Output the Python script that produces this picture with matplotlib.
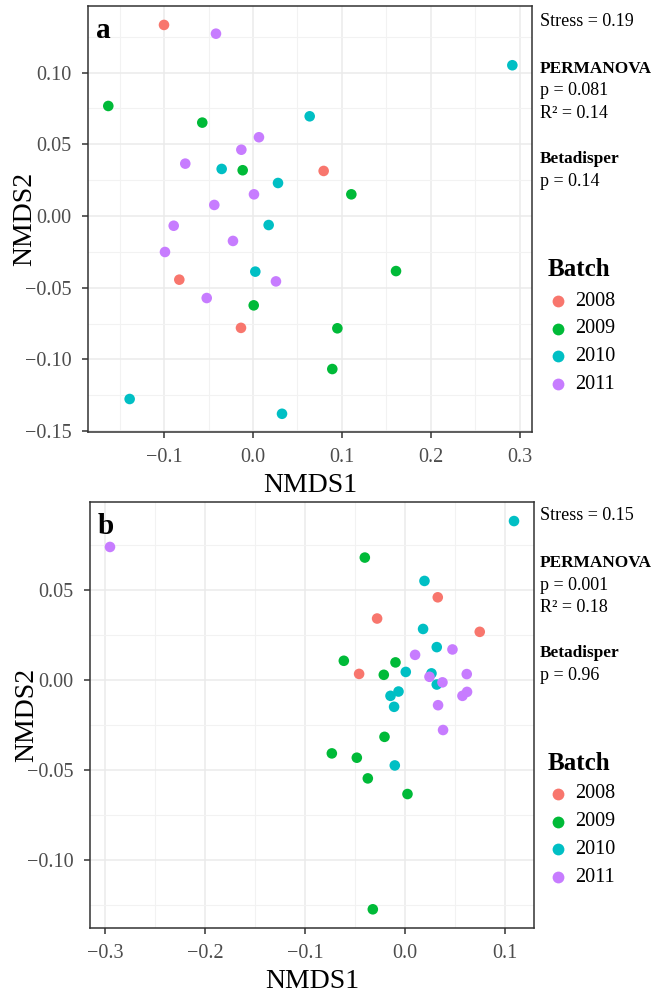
import numpy as np
import matplotlib
matplotlib.use("Agg")
import matplotlib.pyplot as plt
from matplotlib.ticker import MultipleLocator
from matplotlib.lines import Line2D

plt.rcParams['font.family'] = ['Liberation Serif', 'DejaVu Serif']

batches = ['2008', '2009', '2010', '2011']
colors = ['#F8766D', '#00BA38', '#00BFC4', '#C77CFF']

# panel a: NMDS scores per batch
a_x = {
    '2008': [-0.100, 0.0794, -0.0828, -0.0135],
    '2009': [-0.1626, -0.0570, -0.0116, 0.1105, 0.1607, 0.0948, 0.0891, 0.0008],
    '2010': [0.2914, 0.0637, -0.0352, 0.0281, 0.0176, 0.0026, -0.1386, 0.0326],
    '2011': [-0.0416, 0.0067, -0.0131, -0.0761, 0.0011, -0.0435, -0.0891,
             -0.0225, -0.0989, 0.0258, -0.0520],
}
a_y = {
    '2008': [0.1332, 0.0314, -0.0444, -0.0780],
    '2009': [0.0767, 0.0651, 0.0319, 0.0151, -0.0384, -0.0783, -0.1067, -0.0623],
    '2010': [0.1051, 0.0695, 0.0328, 0.0230, -0.0063, -0.0388, -0.1276, -0.1379],
    '2011': [0.1271, 0.0549, 0.0462, 0.0365, 0.0151, 0.0077, -0.0068,
             -0.0174, -0.0251, -0.0456, -0.0572],
}

# panel b
b_x = {
    '2008': [0.0330, -0.0277, 0.0750, -0.0457],
    '2009': [-0.0400, -0.0610, -0.0093, -0.0210, -0.0203, -0.0730, -0.0480,
             -0.0370, 0.0027, -0.0320],
    '2010': [0.1093, 0.0197, 0.0183, 0.0320, 0.0010, 0.0267, 0.0320, -0.0063,
             -0.0143, -0.0107, -0.0100],
    '2011': [-0.2950, 0.0103, 0.0477, 0.0620, 0.0247, 0.0377, 0.0623, 0.0577,
             0.0333, 0.0383],
}
b_y = {
    '2008': [0.0459, 0.0341, 0.0267, 0.0033],
    '2009': [0.0680, 0.0106, 0.0097, 0.0028, -0.0317, -0.0409, -0.0433,
             -0.0548, -0.0635, -0.1276],
    '2010': [0.0883, 0.0550, 0.0283, 0.0182, 0.0044, 0.0036, -0.0026, -0.0065,
             -0.0089, -0.0150, -0.0476],
    '2011': [0.0739, 0.0139, 0.0169, 0.0032, 0.0017, -0.0014, -0.0067, -0.0089,
             -0.0141, -0.0279],
}

a_stats = ['Stress = 0.19', 'PERMANOVA', 'p = 0.081', 'R² = 0.14', 'Betadisper', 'p = 0.14']
b_stats = ['Stress = 0.15', 'PERMANOVA', 'p = 0.001', 'R² = 0.18', 'Betadisper', 'p = 0.96']

W, H = 654, 993
fig = plt.figure(figsize=(W / 100, H / 100), dpi=100)


def px_rect(l, t, r, b):
    return [l / W, 1 - b / H, (r - l) / W, (b - t) / H]


def fx(px):
    return px / W


def fy(px):
    return 1 - px / H


def draw_panel(rect, xs, ys, xlim, ylim, letter):
    ax = fig.add_axes(px_rect(*rect))
    for b, c in zip(batches, colors):
        ax.scatter(xs[b], ys[b], s=58, color=c, edgecolors='none', zorder=3)
    ax.set_xlim(*xlim)
    ax.set_ylim(*ylim)
    ax.xaxis.set_major_locator(MultipleLocator(0.1))
    ax.xaxis.set_minor_locator(MultipleLocator(0.05))
    ax.yaxis.set_major_locator(MultipleLocator(0.05))
    ax.yaxis.set_minor_locator(MultipleLocator(0.025))
    ax.grid(True, which='major', color='#EBEBEB', lw=1.1, zorder=0)
    ax.grid(True, which='minor', color='#F2F2F2', lw=0.8, zorder=0)
    ax.set_axisbelow(True)
    for sp in ax.spines.values():
        sp.set_color('#333333')
        sp.set_linewidth(1.1)
    ax.tick_params(which='major', length=4, width=1.1, color='#333333',
                   labelsize=14.5, labelcolor='#4D4D4D')
    ax.tick_params(axis='x', which='major', pad=7.5)
    ax.tick_params(axis='y', which='major', pad=8)
    ax.tick_params(which='minor', length=0)
    ax.xaxis.set_major_formatter(plt.FuncFormatter(
        lambda v, p: f'{v:.1f}'.replace('-', '\u2212')))
    ax.yaxis.set_major_formatter(plt.FuncFormatter(
        lambda v, p: f'{v:.2f}'.replace('-', '\u2212')))
    ax.set_xlabel('NMDS1', fontsize=20, labelpad=4)
    ax.set_ylabel('NMDS2', fontsize=20)
    ax.yaxis.set_label_coords(-0.114, 0.5)
    ax.text(0.018, 0.975, letter, transform=ax.transAxes, fontsize=21,
            fontweight='bold', va='top', ha='left')
    return ax


ax_a = draw_panel((88, 6, 532, 432), a_x, a_y, (-0.1854, 0.3135), (-0.1506, 0.1464), 'a')
ax_b = draw_panel((90, 502, 534, 928), b_x, b_y, (-0.315, 0.1293), (-0.138, 0.0989), 'b')


# stats text on the right
def stats_block(lines, top):
    offs = [0, 47, 69, 91, 137, 159]
    for txt, o in zip(lines, offs):
        bold = txt in ('PERMANOVA', 'Betadisper')
        fig.text(fx(540), fy(top + o), txt, fontsize=12.4 if bold else 13,
                 fontweight='bold' if bold else 'normal', va='center', ha='left')


stats_block(a_stats, 22)
stats_block(b_stats, 516)


# legend drawn by hand to match the ggplot guide spacing
def legend_block(title_y):
    fig.text(fx(548), fy(title_y), 'Batch', fontsize=18, fontweight='bold',
             va='center', ha='left')
    for i, (b, c) in enumerate(zip(batches, colors)):
        y = title_y + 31 + i * 27.7
        fig.add_artist(Line2D([fx(558)], [fy(y)], transform=fig.transFigure,
                              marker='o', ls='none', markersize=8.5, color=c,
                              markeredgewidth=0))
        fig.text(fx(575), fy(y), b, fontsize=14.5, va='center', ha='left')


legend_block(270)
legend_block(763)

fig.savefig('out.png', dpi=100)
